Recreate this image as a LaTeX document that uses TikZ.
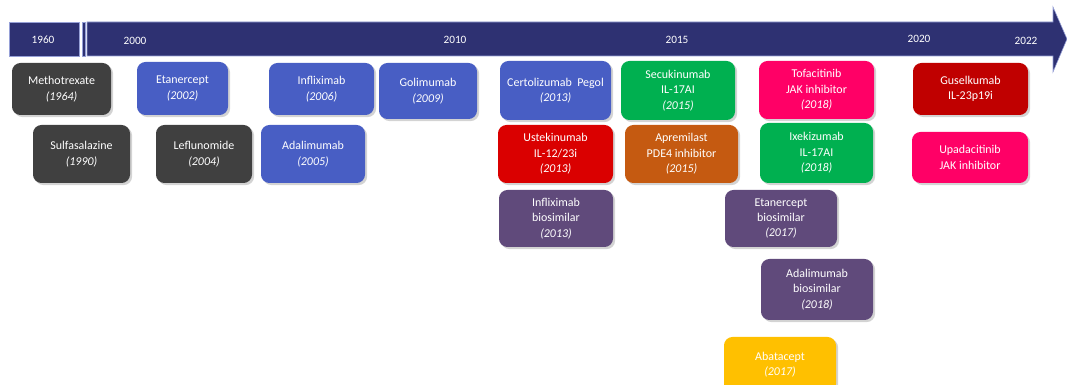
\documentclass[tikz,border=0pt]{standalone}
\usepackage{fontspec}
\setmainfont{Carlito}
\usepackage{tikz}
\usetikzlibrary{shadows}
\definecolor{barcolor}{RGB}{46,49,114}
\definecolor{baredge}{RGB}{150,160,215}
\definecolor{dmardgray}{RGB}{64,64,64}
\definecolor{tnfblue}{RGB}{72,94,196}
\definecolor{ilgreen}{RGB}{0,176,80}
\definecolor{ilred}{RGB}{218,0,0}
\definecolor{ildarkred}{RGB}{192,0,0}
\definecolor{pdeorange}{RGB}{197,90,17}
\definecolor{biopurple}{RGB}{96,74,123}
\definecolor{jakpink}{RGB}{255,0,102}
\definecolor{ctlayellow}{RGB}{255,192,0}

\begin{document}
\begin{tikzpicture}[
    x=0.025cm, y=-0.025cm,
    box/.style={rounded corners=6pt, align=center, text=white, inner sep=1pt,
        font=\fontsize{8.5}{11}\selectfont,
        drop shadow={shadow xshift=1.5pt, shadow yshift=-1.5pt, opacity=0.35}},
    dims/.style 2 args={minimum width=#1*0.025cm, minimum height=#2*0.025cm},
    year/.style={text=white, font=\fontsize{8}{10}\selectfont}
]
    \useasboundingbox (0,0) rectangle (1067,385);

    % timeline bar with break
    \fill[barcolor, draw=baredge, line width=0.4pt] (9,22) rectangle (79,56);
    \fill[barcolor, draw=baredge, line width=0.4pt] (82,22) rectangle (85,56);
    \fill[barcolor, draw=baredge, line width=0.4pt] (87,22) -- (1053,22) -- (1053,7) -- (1067,39)
        -- (1053,72) -- (1053,56) -- (87,56) -- cycle;

    \node[year] (y1960) at (43,40) {1960};
    \node[year] (y2000) at (135,41) {2000};
    \node[year] (y2010) at (455,40) {2010};
    \node[year] (y2015) at (677,40) {2015};
    \node[year] (y2020) at (919,39) {2020};
    \node[year] (y2022) at (1026,41) {2022};

    % conventional DMARDs
    \node[box, fill=dmardgray, dims={99}{52}] (meth) at (61.5,89) {Methotrexate\\\textit{(1964)}};
    \node[box, fill=dmardgray, dims={97}{58}] (sulfa) at (81.5,154) {Sulfasalazine\\\textit{(1990)}};
    \node[box, fill=dmardgray, dims={96}{58}] (leflu) at (204,154) {Leflunomide\\\textit{(2004)}};

    % TNF inhibitors
    \node[box, fill=tnfblue, dims={91}{53}] (etan) at (182.5,88.5) {Etanercept\\\textit{(2002)}};
    \node[box, fill=tnfblue, dims={104}{58}] (adali) at (313,154) {Adalimumab\\\textit{(2005)}};
    \node[box, fill=tnfblue, dims={105}{52}] (infli) at (321.5,89) {Infliximab\\\textit{(2006)}};
    \node[box, fill=tnfblue, dims={98}{56}] (goli) at (428,91) {Golimumab\\\textit{(2009)}};
    \node[box, fill=tnfblue, dims={111}{59}] (certo) at (555.5,90.5) {Certolizumab\ \ Pegol\\\textit{(2013)}};

    % interleukin inhibitors and others
    \node[box, fill=ilgreen, dims={114}{59}] (secuk) at (678,90.5) {Secukinumab\\IL-17AI\\\textit{(2015)}};
    \node[box, fill=ilred, dims={115}{58}] (ustek) at (555.5,154) {Ustekinumab\\IL-12/23i\\\textit{(2013)}};
    \node[box, fill=pdeorange, dims={113}{58}] (aprem) at (681.5,154) {Apremilast\\PDE4 inhibitor\\\textit{(2015)}};
    \node[box, fill=jakpink, dims={115}{58}] (tofa) at (816.5,90) {Tofacitinib\\JAK inhibitor\\\textit{(2018)}};
    \node[box, fill=ilgreen, dims={113}{60}] (ixek) at (816.5,153) {Ixekizumab\\IL-17AI\\\textit{(2018)}};
    \node[box, fill=ildarkred, dims={115}{52}] (gusel) at (970.5,89) {Guselkumab\\IL-23p19i};
    \node[box, fill=jakpink, dims={116}{51}] (upada) at (970,157.5) {Upadacitinib\\JAK inhibitor};
    \node[box, fill=ctlayellow, dims={112}{55}] (abata) at (780,364.5) {Abatacept\\\textit{(2017)}};

    % biosimilars
    \node[box, fill=biopurple, dims={114}{57}] (inflibio) at (556,218.5) {Infliximab\\biosimilar\\\textit{(2013)}};
    \node[box, fill=biopurple, dims={112}{57}] (etanbio) at (781,218.5) {Etanercept\\biosimilar\\\textit{(2017)}};
    \node[box, fill=biopurple, dims={112}{61}] (adabio) at (817,289.5) {Adalimumab\\biosimilar\\\textit{(2018)}};
\end{tikzpicture}
\end{document}
